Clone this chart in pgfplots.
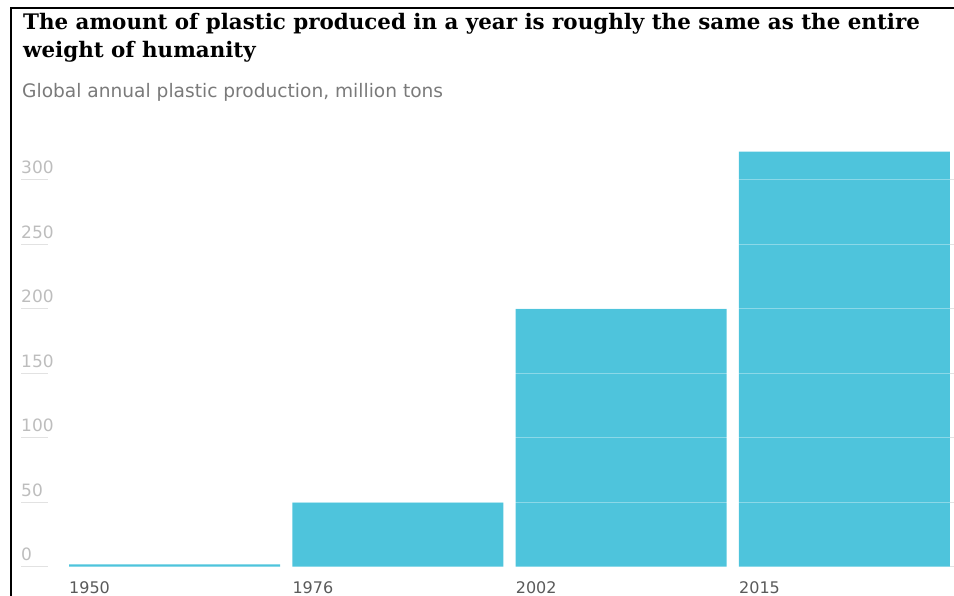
\documentclass[border=0pt]{standalone}
\usepackage{pgfplots}
\pgfplotsset{compat=1.18}
\usepackage{fontspec}
\setmainfont{DejaVu Serif}
\newfontfamily\sans{DejaVu Sans}
\definecolor{barcol}{HTML}{4EC4DC}
\definecolor{ticklab}{HTML}{BDBDBD}
\definecolor{xlab}{HTML}{5A5A5A}
\definecolor{subcol}{HTML}{7A7A7A}
\definecolor{tickcol}{HTML}{E2E2E2}
\begin{document}
\begin{tikzpicture}[x=1pt,y=1pt]
\useasboundingbox (0,0) rectangle (954,596);
\draw[line width=2pt,black] (11,0) -- (11,588) -- (954,588);
\node[anchor=base west,inner sep=0pt,font=\bfseries\fontsize{21.4}{28}\selectfont] at (23,566) {The amount of plastic produced in a year is roughly the same as the entire};
\node[anchor=base west,inner sep=0pt,font=\bfseries\fontsize{21.4}{28}\selectfont] at (23,538.5) {weight of humanity};
\node[anchor=base west,inner sep=0pt,text=subcol,font=\sans\fontsize{18.6}{20}\selectfont] at (22,498.5) {Global annual plastic production, million tons};
\begin{axis}[
  at={(48pt,29pt)}, anchor=south west,
  scale only axis,
  width=902pt, height=425.7pt,
  xmin=-0.5665, xmax=3.4725,
  ymin=0, ymax=330,
  ybar, bar width=211pt,
  axis line style={draw=none},
  xtick={0,1,2,3},
  xticklabels={1950,1976,2002,2015},
  ytick={0,50,100,150,200,250,300},
  tick align=outside,
  major tick length=27pt,
  xtick style={draw=none},
  ytick style={draw=tickcol,line width=1pt},
  ymajorgrids,
  major grid style={draw=white,opacity=0.35,line width=1pt},
  axis on top,
  /pgf/number format/assume math mode=true,
  yticklabel style={anchor=south west,inner sep=0pt,text=ticklab,font=\sans\fontsize{17}{17}\selectfont,xshift=0pt,yshift=6pt},
  xticklabel style={anchor=north west,inner sep=0pt,text=xlab,font=\sans\fontsize{16}{16}\selectfont,xshift=-105.5pt,yshift=13pt},
  clip=false,
]
\addplot[fill=barcol,draw=none] coordinates {(0,2) (1,50) (2,200) (3,322)};
\end{axis}
\end{tikzpicture}
\end{document}
